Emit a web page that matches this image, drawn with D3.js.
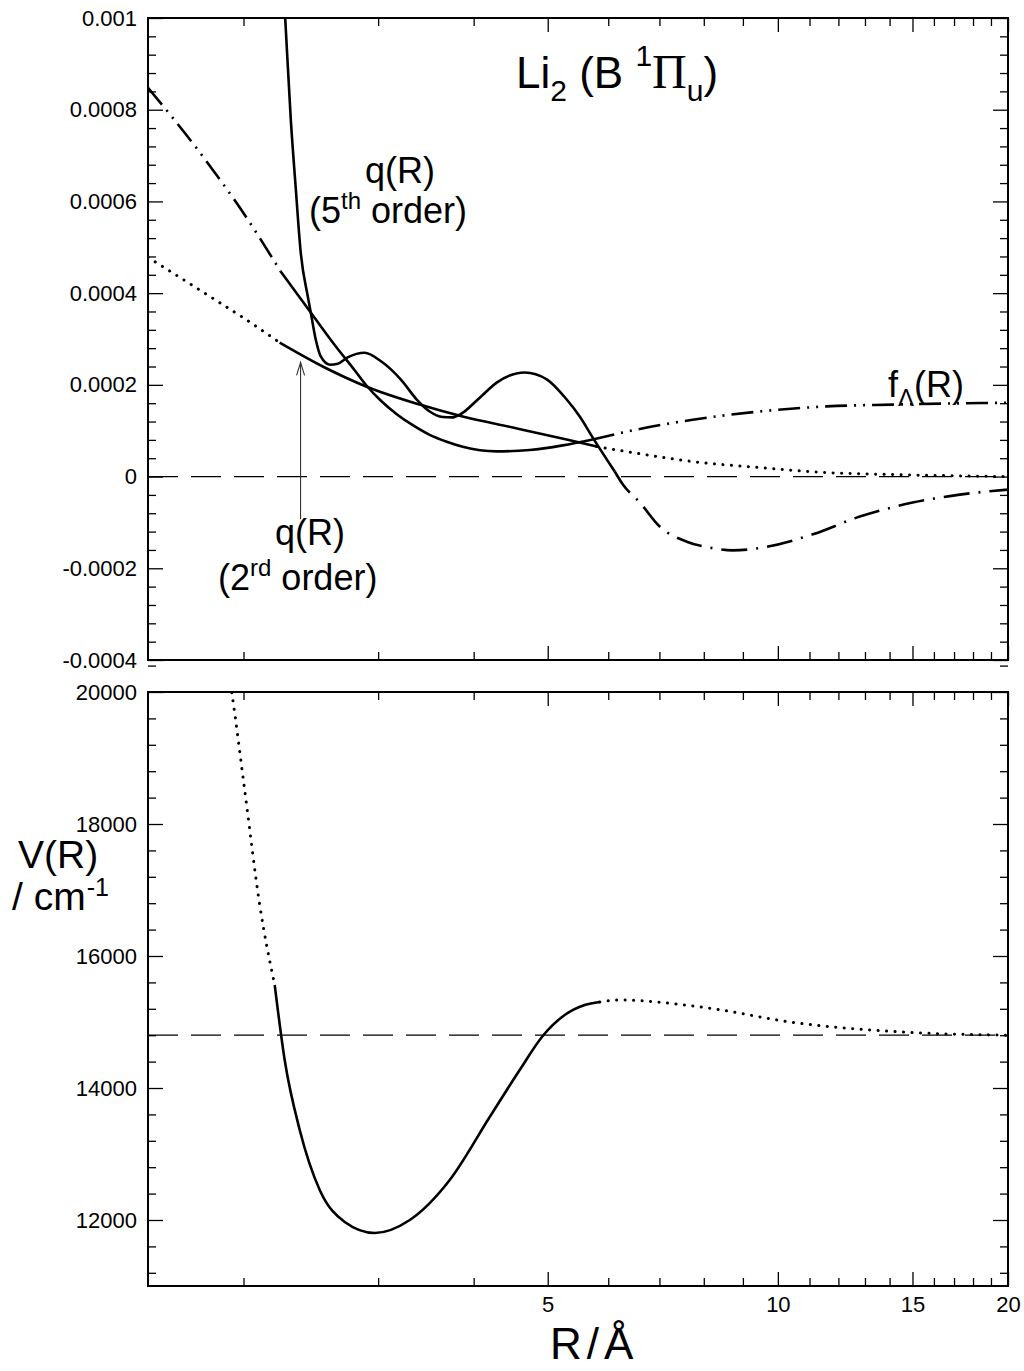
<!DOCTYPE html>
<html>
<head>
<meta charset="utf-8">
<script src="https://cdnjs.cloudflare.com/ajax/libs/d3/7.8.5/d3.min.js"></script>
<style>
  body { margin: 0; background: #fff; }
  svg { display: block; font-family: "Liberation Sans", Arial, sans-serif; }
</style>
</head>
<body>
<svg width="1024" height="1371"></svg>
<script>
// ---- values (R in Angstrom) ----

// q(R), 5th order fit: solid part, then dash-dot extrapolation
var q5FitR   = [2.22, 2.268, 2.306, 2.340, 2.376, 2.427, 2.449, 2.486, 2.524, 2.594, 2.656, 2.737, 2.881, 3.023, 3.211, 3.370, 3.504, 3.644, 3.744, 3.836, 4.074, 4.288, 4.665, 4.985, 5.294, 5.506, 5.726, 6.118];
var q5FitVal = [0.00125, 0.000997, 0.000779, 0.000632, 0.000489, 0.000393, 0.000358, 0.000299, 0.000262, 0.000244, 0.000246, 0.00026, 0.00027, 0.000252, 0.000212, 0.000168, 0.000142, 0.00013, 0.000129, 0.000135, 0.000172, 0.000205, 0.000227, 0.000212, 0.000168, 0.000131, 0.000085, 0.000011];
var q5ExtR   = [6.118, 6.27, 6.60, 7.005, 7.60, 8.145, 8.73, 9.67, 11.11, 12.80, 15.01, 17.30, 20];
var q5ExtVal = [0.000011, -0.0000174, -0.0000567, -0.000109, -0.000142, -0.000155, -0.000161, -0.000153, -0.000126, -0.0000872, -0.0000567, -0.0000393, -0.0000284];

// q(R), 2nd order: dotted / solid / dotted
var q2LeftR   = [1.5, 1.834, 2.025, 2.230];
var q2LeftVal = [0.000478, 0.000386, 0.00034, 0.000292];
var q2FitR    = [2.230, 2.539, 2.898, 3.400, 3.870, 4.500, 5.294, 5.795];
var q2FitVal  = [0.000292, 0.00024, 0.000196, 0.000157, 0.000131, 0.000107, 0.0000807, 0.0000654];
var q2RightR   = [5.795, 6.343, 7.738, 9.468, 11.585, 14.13, 20];
var q2RightVal = [0.0000654, 0.0000545, 0.0000327, 0.0000196, 0.0000087, 0.0000044, 0];

// f_Lambda(R): dash-dot-dot / solid / dash-dot-dot
var fLeftR   = [1.5, 1.742, 2.025, 2.237];
var fLeftVal = [0.000848, 0.000713, 0.000561, 0.000447];
var fFitR    = [2.237, 2.449, 2.632, 2.795, 2.898, 3.023, 3.173, 3.330, 3.504, 3.689, 3.870, 4.288, 4.736, 5.231, 5.726];
var fFitVal  = [0.000447, 0.000358, 0.000287, 0.000232, 0.000198, 0.000166, 0.000136, 0.000112, 0.000091, 0.000076, 0.000065, 0.000055, 0.000058, 0.000068, 0.000081];
var fRightR   = [5.726, 6.343, 7.738, 9.468, 11.585, 14.13, 20];
var fRightVal = [0.000081, 0.000098, 0.000124, 0.000142, 0.000153, 0.000157, 0.000161];

// V(R) potential: dotted / solid / dotted, and the dissociation limit
var vLeftR   = [1.90, 1.930, 2.007, 2.100, 2.197];
var vLeftVal = [20500, 20000, 18515, 16773, 15561];
var vFitR    = [2.197, 2.264, 2.369, 2.516, 2.713, 2.969, 3.300, 3.722, 4.198, 4.595, 4.925, 5.262, 5.589, 5.847];
var vFitVal  = [15561, 14424, 13364, 12455, 11970, 11803, 12000, 12606, 13560, 14273, 14788, 15106, 15258, 15303];
var vRightR   = [5.847, 6.21, 7.90, 10.68, 14.44, 20];
var vRightVal = [15303, 15333, 15230, 14980, 14850, 14800];
var vLimit = 14800;

// ticks
var xMajor = [5, 10, 15, 20];
var xMinor = [2, 3, 4, 6, 7, 8, 9, 11, 12, 13, 14, 16, 17, 18, 19];
var qTicks = [-0.0004, -0.0002, 0, 0.0002, 0.0004, 0.0006, 0.0008, 0.001];
var vTicks = [12000, 14000, 16000, 18000, 20000];

var svg = d3.select("svg"),
    left = 148, right = 1008,
    topPanel = { top: 18, bottom: 660 },
    botPanel = { top: 692, bottom: 1286 };

var x = d3.scaleLog().domain([1.5, 20]).range([left, right]);
var yq = d3.scaleLinear().domain([-0.0004, 0.001]).range([topPanel.bottom, topPanel.top]);
var yv = d3.scaleLinear().domain([11000, 20000]).range([botPanel.bottom, botPanel.top]);

function zip(rs, vs) {
    return rs.map(function (r, i) { return [r, vs[i]]; });
}

function minorOf(majors, step, lo, hi) {
    var out = [];
    for (var v = lo; v <= hi + step / 2; v += step) {
        var vv = Math.round(v / step) * step;
        if (!majors.some(function (m) { return Math.abs(m - vv) < step / 10; })) out.push(vv);
    }
    return out;
}

var defs = svg.append("defs");
[["clipQ", topPanel], ["clipV", botPanel]].forEach(function (c) {
    defs.append("clipPath").attr("id", c[0])
        .append("rect")
        .attr("x", left).attr("y", c[1].top)
        .attr("width", right - left).attr("height", c[1].bottom - c[1].top);
});

var styles = {
    solid:   { width: 2.6, dash: null, cap: "butt" },
    dotted:  { width: 3, dash: "0.1,8.4", cap: "round" },
    dashdot: { width: 2.6, dash: "26,9,2,9", cap: "butt" },
    dash2dot:{ width: 2.6, dash: "22,7,2,7,2,7", cap: "butt" }
};

function drawPanel(y, ticks, tickFmt, minors, panel, clipId, showXLabels) {
    var g = svg.append("g");

    // bottom / top x axes, ticks pointing inward
    var bx = g.append("g").attr("transform", "translate(0," + panel.bottom + ")");
    bx.call(d3.axisBottom(x).tickValues(xMajor).tickSize(-14).tickPadding(10)
        .tickFormat(showXLabels ? d3.format("d") : ""));
    bx.append("g").call(d3.axisBottom(x).tickValues(xMinor).tickSize(-8).tickFormat(""));

    var tx = g.append("g").attr("transform", "translate(0," + panel.top + ")");
    tx.call(d3.axisTop(x).tickValues(xMajor).tickSize(-14).tickFormat(""));
    tx.append("g").call(d3.axisTop(x).tickValues(xMinor).tickSize(-8).tickFormat(""));

    var ly = g.append("g").attr("transform", "translate(" + left + ",0)");
    ly.call(d3.axisLeft(y).tickValues(ticks).tickSize(-15).tickPadding(11).tickFormat(tickFmt));
    ly.append("g").call(d3.axisLeft(y).tickValues(minors).tickSize(-8).tickFormat(""));

    var ry = g.append("g").attr("transform", "translate(" + right + ",0)");
    ry.call(d3.axisRight(y).tickValues(ticks).tickSize(-15).tickFormat(""));
    ry.append("g").call(d3.axisRight(y).tickValues(minors).tickSize(-8).tickFormat(""));

    g.selectAll(".domain").remove();
    g.selectAll(".tick line").attr("stroke", "#000").attr("stroke-width", 1.3);
    g.selectAll(".tick text")
        .attr("font-size", "22px")
        .attr("font-family", "'Liberation Sans', Arial, sans-serif")
        .attr("fill", "#000");

    g.append("rect")
        .attr("x", left).attr("y", panel.top)
        .attr("width", right - left).attr("height", panel.bottom - panel.top)
        .attr("fill", "none").attr("stroke", "#000").attr("stroke-width", 2);

    return svg.append("g").attr("clip-path", "url(#" + clipId + ")");
}

function drawCurve(plot, y, rs, vs, style) {
    var s = styles[style];
    var line = d3.line()
        .x(function (d) { return x(d[0]); })
        .y(function (d) { return y(d[1]); })
        .curve(d3.curveMonotoneX);
    plot.append("path")
        .datum(zip(rs, vs))
        .attr("d", line)
        .attr("fill", "none")
        .attr("stroke", "#000")
        .attr("stroke-width", s.width)
        .attr("stroke-linecap", s.cap)
        .attr("stroke-linejoin", "round")
        .attr("stroke-dasharray", s.dash);
}

function zeroLine(plot, y, value) {
    plot.append("line")
        .attr("x1", left).attr("x2", right)
        .attr("y1", y(value)).attr("y2", y(value))
        .attr("stroke", "#000").attr("stroke-width", 1.2)
        .attr("stroke-dasharray", "30,13");
}

// ---------- top panel: q(R) and f_Lambda(R) ----------
var plotQ = drawPanel(yq, qTicks, function (d) { return String(d); },
    minorOf(qTicks, 0.00004, -0.0004, 0.001), topPanel, "clipQ", false);

zeroLine(plotQ, yq, 0);
drawCurve(plotQ, yq, q2LeftR, q2LeftVal, "dotted");
drawCurve(plotQ, yq, q2FitR, q2FitVal, "solid");
drawCurve(plotQ, yq, q2RightR, q2RightVal, "dotted");
drawCurve(plotQ, yq, fLeftR, fLeftVal, "dash2dot");
drawCurve(plotQ, yq, fFitR, fFitVal, "solid");
drawCurve(plotQ, yq, fRightR, fRightVal, "dash2dot");
drawCurve(plotQ, yq, q5FitR, q5FitVal, "solid");
drawCurve(plotQ, yq, q5ExtR, q5ExtVal, "dashdot");

// ---------- bottom panel: V(R) ----------
var plotV = drawPanel(yv, vTicks, d3.format("d"),
    minorOf(vTicks, 400, 11000, 20000), botPanel, "clipV", true);

zeroLine(plotV, yv, vLimit);
drawCurve(plotV, yv, vLeftR, vLeftVal, "dotted");
drawCurve(plotV, yv, vFitR, vFitVal, "solid");
drawCurve(plotV, yv, vRightR, vRightVal, "dotted");

// ---------- labels ----------
function label(xp, yp, size) {
    return svg.append("text").attr("x", xp).attr("y", yp)
        .attr("font-size", size + "px").attr("fill", "#000");
}

var title = label(516, 88, 44);
title.append("tspan").text("Li");
title.append("tspan").attr("font-size", "30px").attr("dy", 13).text("2");
title.append("tspan").attr("dy", -13).text(" (B ");
title.append("tspan").attr("font-size", "30px").attr("dy", -22).text("1");
title.append("tspan").attr("font-family", "'Liberation Serif', serif").attr("font-size", "48px").attr("dy", 22).text("\u03A0");
title.append("tspan").attr("font-size", "30px").attr("dy", 13).text("u");
title.append("tspan").attr("dy", -13).text(")");

label(365, 183, 36).text("q(R)");
var o5 = label(309, 223, 36);
o5.append("tspan").text("(5");
o5.append("tspan").attr("font-size", "24px").attr("dy", -14).text("th");
o5.append("tspan").attr("dy", 14).text(" order)");

label(275, 545, 36).text("q(R)");
var o2 = label(218, 590, 36);
o2.append("tspan").text("(2");
o2.append("tspan").attr("font-size", "24px").attr("dy", -14).text("rd");
o2.append("tspan").attr("dy", 14).text(" order)");

var fl = label(888, 397, 36);
fl.append("tspan").text("f");
fl.append("tspan").attr("font-size", "24px").attr("dy", 9).text("\u039B");
fl.append("tspan").attr("dy", -9).text("(R)");

// arrow pointing at the 2nd-order curve
var ax = x(2.375);
svg.append("line")
    .attr("x1", ax).attr("x2", ax)
    .attr("y1", yq(-0.000093)).attr("y2", yq(0.000249))
    .attr("stroke", "#333").attr("stroke-width", 1.1);
svg.append("path")
    .attr("d", "M" + (ax - 4) + "," + (yq(0.000249) + 13) + "L" + ax + "," + yq(0.000249) + "L" + (ax + 4) + "," + (yq(0.000249) + 13))
    .attr("fill", "none").attr("stroke", "#333").attr("stroke-width", 1.1);

// y label of the bottom panel (two lines in one text)
var vl = label(18, 868, 39);
vl.append("tspan").text("V(R)");
vl.append("tspan").attr("x", 12).attr("dy", 42).text("/ cm");
vl.append("tspan").attr("font-size", "25px").attr("dx", 1).attr("dy", -14).text("-1");

// x axis title
var xt = label(550, 1359, 44);
xt.append("tspan").text("R");
xt.append("tspan").attr("dx", 5).text("/");
xt.append("tspan").attr("dx", 5).text("\u00C5");
</script>
</body>
</html>
